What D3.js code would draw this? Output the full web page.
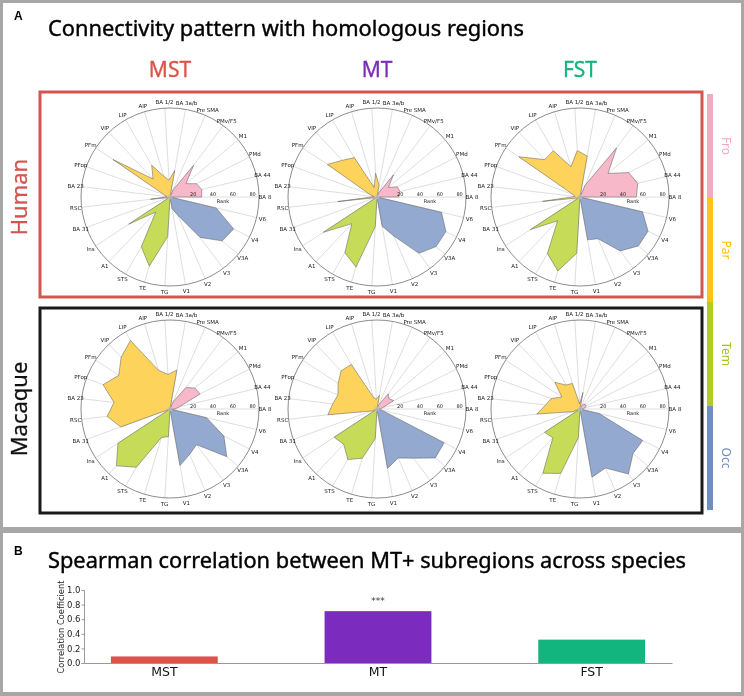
<!DOCTYPE html>
<html>
<head>
<meta charset="utf-8">
<title>Connectivity pattern with homologous regions</title>
<script src="https://cdn.jsdelivr.net/npm/d3@7"></script>
<style>
  body { margin: 0; background: #fff; }
  #fig { will-change: transform; }
  svg text { font-family: "DejaVu Sans", sans-serif; }
</style>
</head>
<body>
<svg id="fig" width="744" height="696"></svg>

<script>
// radar axes, counter-clockwise starting from the right
var regions = ["BA 8", "BA 44", "PMd", "M1", "PMv/F5", "Pre SMA",
    "BA 3a/b", "BA 1/2", "AIP", "LIP", "VIP", "PFm", "PFop", "BA 23", "RSC", "BA 31",
    "Ins", "A1", "STS", "TE", "TG",
    "V1", "V2", "V3", "V3A", "V4", "V6"];
var lobes = ["Fro", "Par", "Tem", "Occ"];
var lobeSizes = [6, 10, 5, 6];
var subregions = ["MST", "MT", "FST"];
var species = ["Human", "Macaque"];
var rankTicks = [20, 40, 60, 80];

// rank values (same order as regions)
var humanMST   = [32, 33, 30, 21, 40, 8,  27, 17, 22, 37, 25, 69, 6, 3, 20, 2,  50, 21, 58, 73, 40,  12, 20, 51, 69, 72, 48];
var humanMT    = [22, 24, 23, 15, 28, 5,  12, 24, 10, 46, 51, 60, 8, 3, 40, 2,  65, 37, 65, 74, 30,  30, 43, 71, 78, 78, 67];
var humanFST   = [57, 60, 55, 37, 62, 13, 42, 47, 32, 54, 52, 74, 8, 5, 38, 3,  60, 33, 66, 78, 57,  44, 46, 68, 77, 77, 65];
var macaqueMST = [5, 10, 34, 33, 27, 8,   40, 35, 41, 80, 72, 62, 72, 57, 64, 53,  63, 79, 68, 30, 28,  58, 50, 45, 75, 61, 38];
var macaqueMT  = [3, 6, 19, 16, 19, 5,    14, 10, 12, 52, 53, 47, 42, 45, 50, 6,   52, 49, 59, 52, 30,  61, 54, 62, 77, 76, 5];
var macaqueFST = [3, 5, 7, 7, 6, 3,       17, 5, 27, 28, 37, 22, 31, 35, 44, 8,    43, 40, 75, 68, 29,  70, 65, 82, 70, 71, 20];

// panel B
var correlation = [0.09, 0.71, 0.32];
var corrTicks = [0, 0.2, 0.4, 0.6, 0.8, 1.0];

var rankData = {
    Human: [humanMST, humanMT, humanFST],
    Macaque: [macaqueMST, macaqueMT, macaqueFST]
};

var subColor = {MST: "#de5247", MT: "#7b2bbd", FST: "#13b57f"};
var lobeFill = {Fro: "#f7b8ca", Par: "#fdd35c", Tem: "#c6dc58", Occ: "#93a9cf"};
var lobeBar = {Fro: "#f6aac2", Par: "#ffc313", Tem: "#b3cb22", Occ: "#6f8ec1"};
var lobeText = {Fro: "#f4a8c0", Par: "#ffbf00", Tem: "#a7c51d", Occ: "#6d8cc0"};

var svg = d3.select("#fig");

// grey frame with two white panels
svg.append("rect").attr("width", 744).attr("height", 696).attr("fill", "#a7a7a7");
svg.append("rect").attr("x", 3).attr("y", 3).attr("width", 738).attr("height", 524).attr("fill", "#fff");
svg.append("rect").attr("x", 3).attr("y", 533).attr("width", 738).attr("height", 159).attr("fill", "#fff");

// ---------- panel A ----------
svg.append("text").attr("x", 14).attr("y", 20)
    .style("font-family", "Liberation Sans").style("font-weight", "bold").style("font-size", "12px")
    .text("A");
svg.append("text").attr("x", 48).attr("y", 36)
    .style("font-family", "Noto Sans").style("font-size", "22px")
    .attr("stroke", "#000").attr("stroke-width", 0.4)
    .attr("textLength", 476).attr("lengthAdjust", "spacingAndGlyphs")
    .text("Connectivity pattern with homologous regions");

var colX = [170, 377, 580];
var rowY = [197, 409];

svg.selectAll("text.sub").data(subregions).enter().append("text")
    .attr("class", "sub")
    .attr("x", function (d, i) { return colX[i]; })
    .attr("y", 77)
    .attr("text-anchor", "middle")
    .style("font-family", "Noto Sans").style("font-size", "21px")
    .attr("fill", function (d) { return subColor[d]; })
    .attr("stroke", function (d) { return subColor[d]; }).attr("stroke-width", 0.3)
    .text(function (d) { return d; });

// species boxes
svg.append("rect").attr("x", 40).attr("y", 92).attr("width", 662).attr("height", 205)
    .attr("fill", "none").attr("stroke", "#d3554f").attr("stroke-width", 3);
svg.append("rect").attr("x", 40).attr("y", 308).attr("width", 662).attr("height", 205)
    .attr("fill", "none").attr("stroke", "#1a1a1a").attr("stroke-width", 3);

svg.selectAll("text.species").data(species).enter().append("text")
    .attr("class", "species")
    .attr("transform", function (d, i) { return "translate(27," + rowY[i] + ") rotate(-90)"; })
    .attr("text-anchor", "middle")
    .style("font-family", "Noto Sans").style("font-size", "22px")
    .attr("fill", function (d, i) { return i === 0 ? "#d3554f" : "#111"; })
    .attr("stroke", function (d, i) { return i === 0 ? "#d3554f" : "#111"; }).attr("stroke-width", 0.3)
    .text(function (d) { return d; });

// lobe of each region
var lobeOf = [];
lobeSizes.forEach(function (n, k) { for (var j = 0; j < n; j++) lobeOf.push(lobes[k]); });

var R = 89;
var rScale = d3.scaleLinear().domain([0, 90]).range([0, R]);
// d3 radial angle (clockwise from north); index 0 points east, then counter-clockwise
var angle = d3.scaleLinear().domain([0, regions.length]).range([Math.PI / 2, Math.PI / 2 - 2 * Math.PI]);

var radial = d3.lineRadial()
    .angle(function (d) { return d.a; })
    .radius(function (d) { return d.r; });

function drawRadar(g, values) {
    // spokes
    g.selectAll("line.spoke").data(regions).enter().append("line")
        .attr("class", "spoke")
        .attr("x1", 0).attr("y1", 0)
        .attr("x2", function (d, i) { return R * Math.sin(angle(i)); })
        .attr("y2", function (d, i) { return -R * Math.cos(angle(i)); })
        .attr("stroke", "#d6d6d6").attr("stroke-width", 0.8);

    // one filled wedge per lobe
    lobes.forEach(function (lobe) {
        var pts = [{a: 0, r: 0}];
        values.forEach(function (v, i) {
            if (lobeOf[i] === lobe) pts.push({a: angle(i), r: rScale(v)});
        });
        pts.push({a: 0, r: 0});
        g.append("path")
            .attr("d", radial(pts) + "Z")
            .attr("fill", lobeFill[lobe])
            .attr("stroke", "#5f5f5f").attr("stroke-opacity", 0.75)
            .attr("stroke-width", 0.7).attr("stroke-linejoin", "round");
    });

    g.append("circle").attr("r", 2.5).attr("fill", "#bdbdbd").attr("opacity", 0.8);

    g.append("circle").attr("r", R).attr("fill", "none")
        .attr("stroke", "#6e6e6e").attr("stroke-width", 0.8);

    g.selectAll("text.lab").data(regions).enter().append("text")
        .attr("class", "lab")
        .attr("x", function (d, i) { return (R + 6) * Math.sin(angle(i)); })
        .attr("y", function (d, i) { return -(R + 6) * Math.cos(angle(i)); })
        .attr("text-anchor", "middle").attr("dominant-baseline", "central")
        .style("font-size", "5.5px").attr("fill", "#1a1a1a")
        .text(function (d) { return d; });

    g.selectAll("text.tick").data(rankTicks).enter().append("text")
        .attr("class", "tick")
        .attr("x", function (d) { return rScale(d) + 3.5; })
        .attr("y", -3)
        .attr("text-anchor", "middle").attr("dominant-baseline", "central")
        .style("font-size", "5px").attr("fill", "#222")
        .text(function (d) { return d; });

    g.append("text").attr("x", 53).attr("y", 3.5)
        .attr("text-anchor", "middle").attr("dominant-baseline", "central")
        .style("font-size", "5px").attr("fill", "#222")
        .text("Rank");
}

species.forEach(function (sp, row) {
    subregions.forEach(function (sub, col) {
        var g = svg.append("g").attr("transform", "translate(" + colX[col] + "," + rowY[row] + ")");
        drawRadar(g, rankData[sp][col]);
    });
});

// lobe colour bar on the right
var barY = d3.scaleBand().domain(lobes).range([94, 510]);
svg.selectAll("rect.lobe").data(lobes).enter().append("rect")
    .attr("class", "lobe")
    .attr("x", 707).attr("width", 6)
    .attr("y", function (d) { return barY(d); })
    .attr("height", barY.bandwidth())
    .attr("fill", function (d) { return lobeBar[d]; });
svg.selectAll("text.lobe").data(lobes).enter().append("text")
    .attr("class", "lobe")
    .attr("transform", function (d) { return "translate(726," + (barY(d) + barY.bandwidth() / 2) + ") rotate(90)"; })
    .attr("text-anchor", "middle").attr("dominant-baseline", "central")
    .style("font-family", "Noto Sans").style("font-size", "12px")
    .attr("fill", function (d) { return lobeText[d]; })
    .text(function (d) { return d; });

// ---------- panel B ----------
svg.append("text").attr("x", 14).attr("y", 555)
    .style("font-family", "Liberation Sans").style("font-weight", "bold").style("font-size", "12px")
    .text("B");
svg.append("text").attr("x", 48).attr("y", 568)
    .style("font-family", "Noto Sans").style("font-size", "22px")
    .attr("stroke", "#000").attr("stroke-width", 0.4)
    .attr("textLength", 638).attr("lengthAdjust", "spacingAndGlyphs")
    .text("Spearman correlation between MT+ subregions across species");

var x = d3.scaleBand().domain(subregions).range([84, 672]).paddingInner(0.5).paddingOuter(0.126);
var y = d3.scaleLinear().domain([0, 1]).range([663, 590]);

svg.selectAll("rect.corr").data(correlation).enter().append("rect")
    .attr("class", "corr")
    .attr("x", function (d, i) { return x(subregions[i]); })
    .attr("width", x.bandwidth())
    .attr("y", function (d) { return y(d); })
    .attr("height", function (d) { return y(0) - y(d); })
    .attr("fill", function (d, i) { return subColor[subregions[i]]; });

var yAxis = svg.append("g").attr("transform", "translate(84,0)")
    .call(d3.axisLeft(y).tickValues(corrTicks).tickFormat(d3.format(".1f")).tickSize(2.5).tickPadding(1));
yAxis.select(".domain").attr("stroke", "#999");
yAxis.selectAll(".tick line").attr("stroke", "#999");
yAxis.selectAll(".tick text").style("font-family", "DejaVu Sans").style("font-size", "8.5px").attr("fill", "#222");

var xAxis = svg.append("g").attr("transform", "translate(0,663)")
    .call(d3.axisBottom(x).tickSize(0).tickPadding(4).tickSizeOuter(0));
xAxis.select(".domain").attr("stroke", "#999");
xAxis.selectAll(".tick text").style("font-family", "DejaVu Sans").style("font-size", "12.5px").attr("fill", "#111");

svg.append("text")
    .attr("transform", "translate(63.5,627) rotate(-90)")
    .attr("text-anchor", "middle")
    .style("font-size", "8.3px").attr("fill", "#222")
    .text("Correlation Coefficient");

svg.append("text")
    .attr("x", x("MT") + x.bandwidth() / 2).attr("y", 604)
    .attr("text-anchor", "middle")
    .style("font-size", "9px").attr("fill", "#333")
    .text("***");
</script>
</body>
</html>
